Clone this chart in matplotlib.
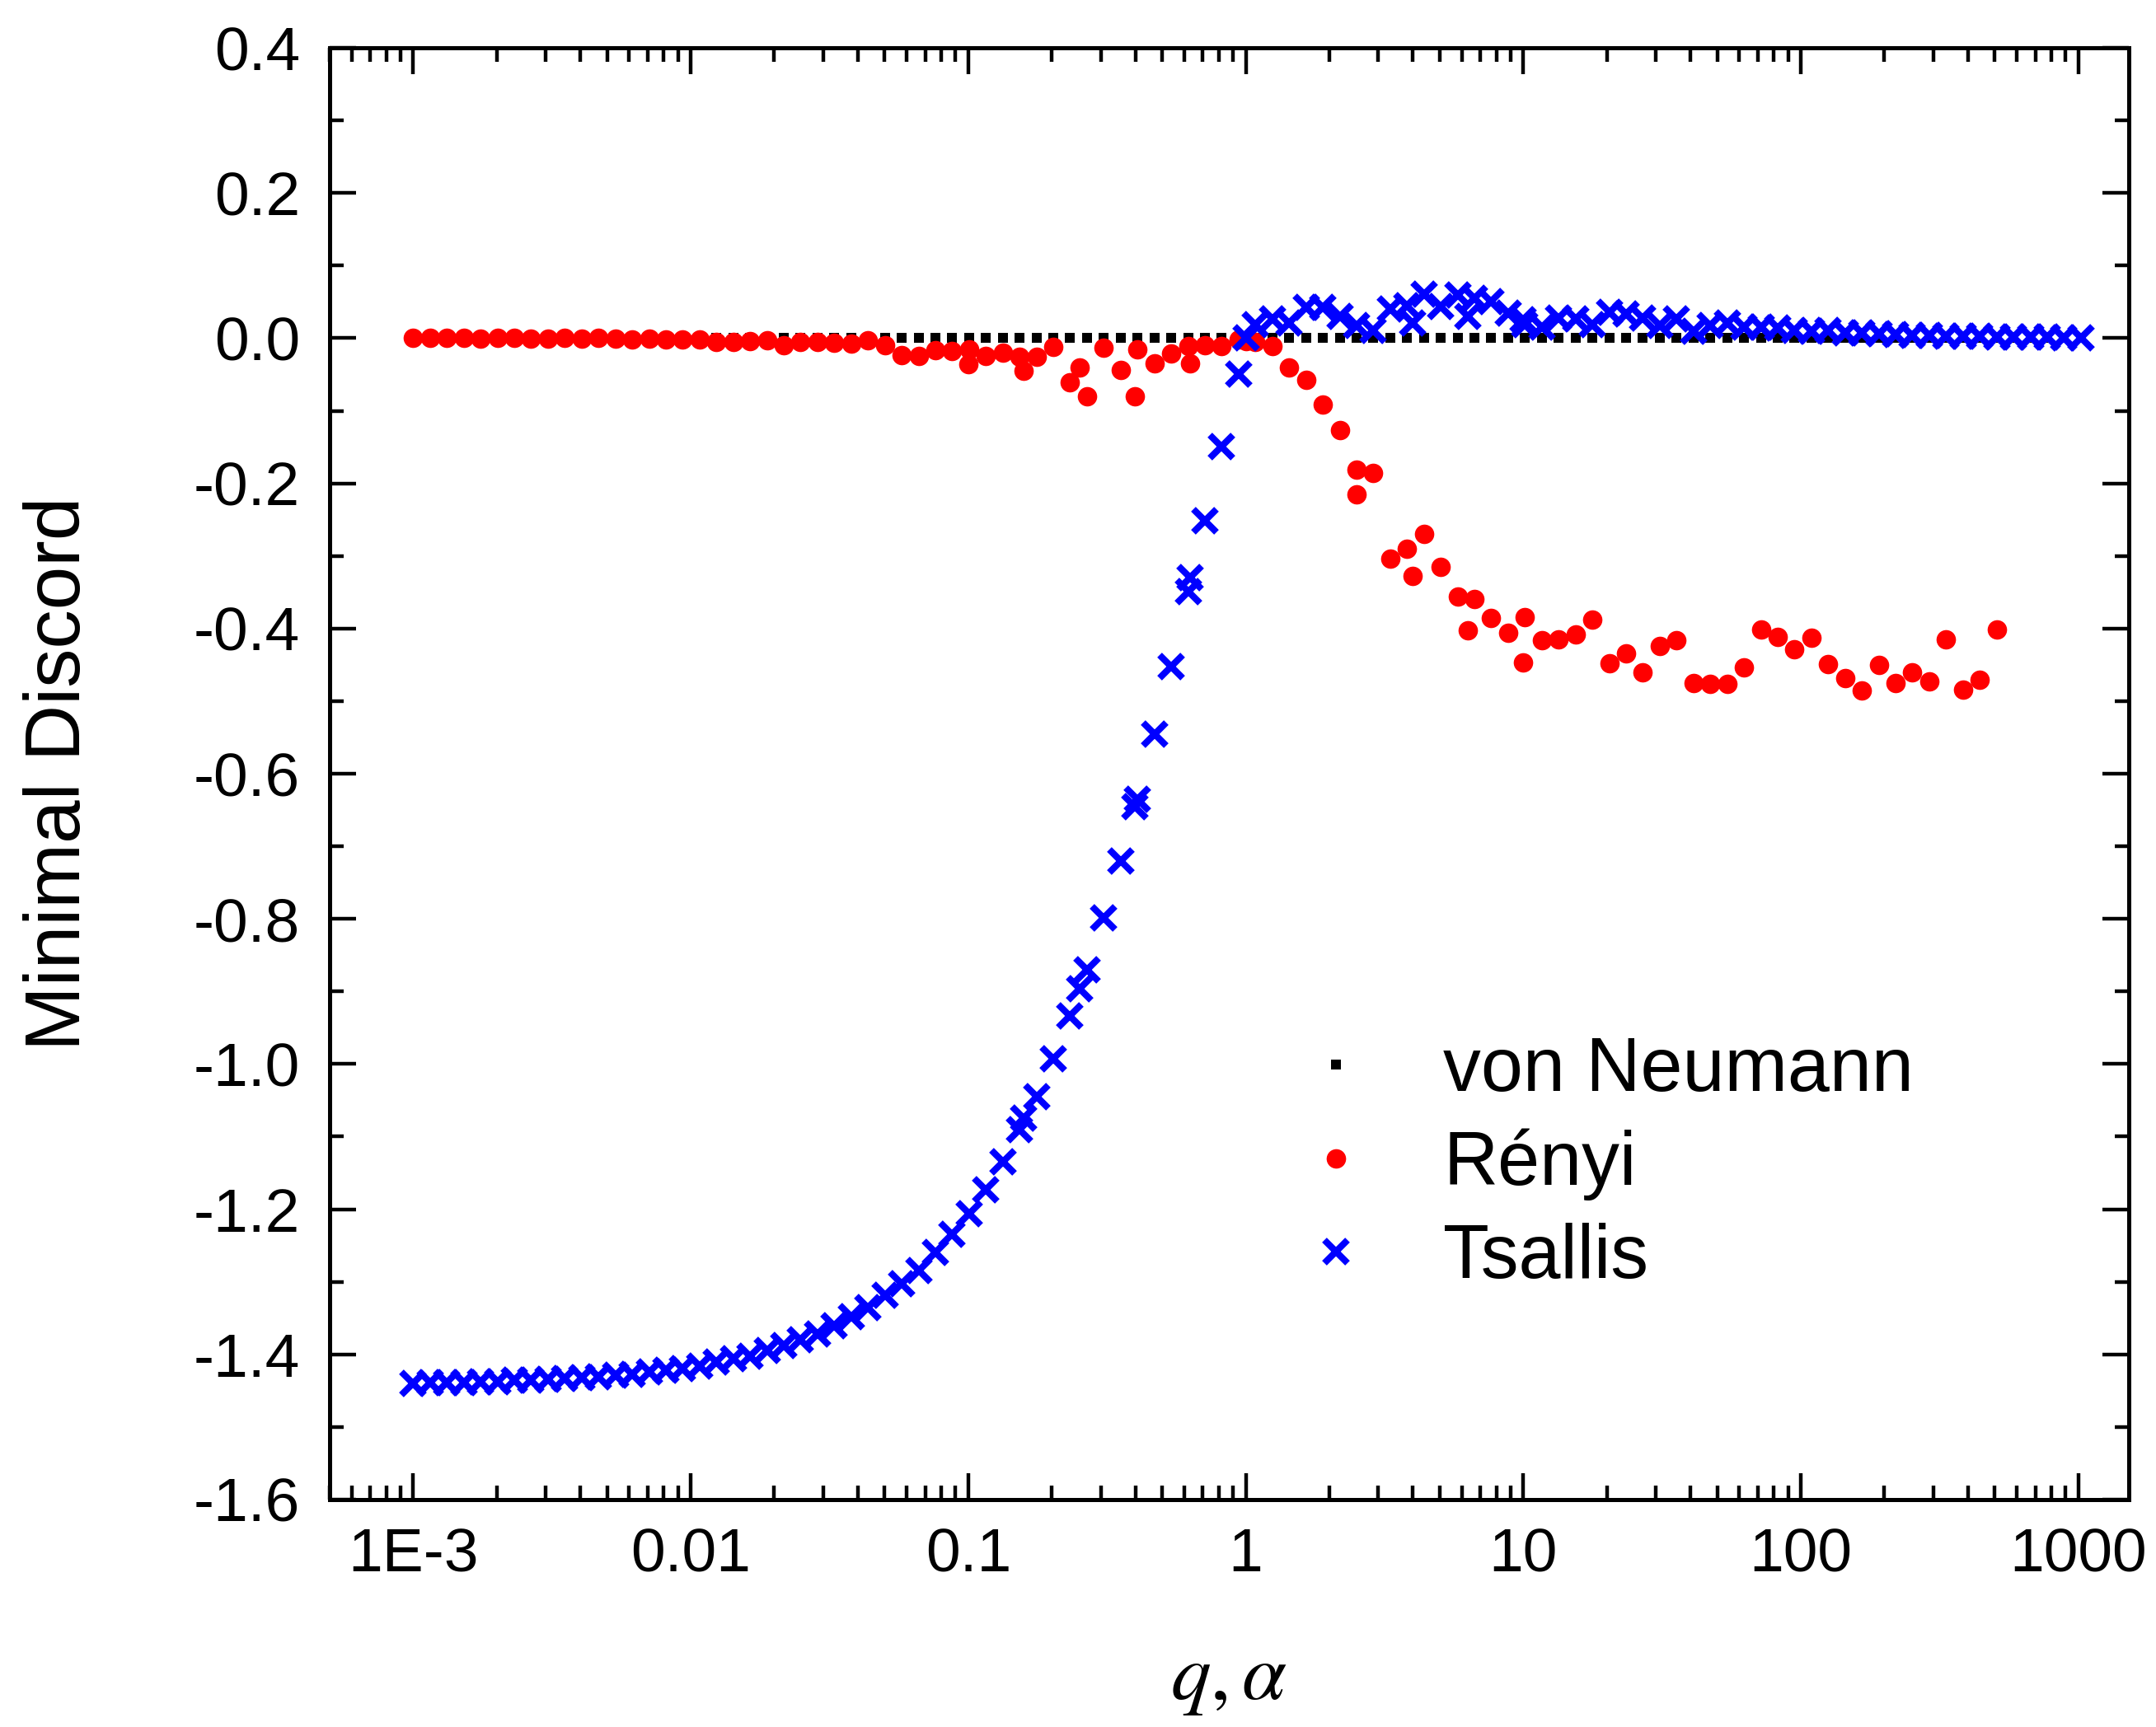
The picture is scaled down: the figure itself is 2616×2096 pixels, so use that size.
import numpy as np
import matplotlib
matplotlib.use("Agg")
import matplotlib.pyplot as plt
from matplotlib.ticker import FixedLocator, FixedFormatter, LogLocator, MultipleLocator, FormatStrFormatter, NullFormatter

plt.rcParams['font.family'] = ['Liberation Sans', 'DejaVu Sans']
plt.rcParams['axes.unicode_minus'] = False
plt.rcParams['mathtext.fontset'] = 'stix'

# common q / alpha grid
x_grid = [0.001, 0.00115, 0.001323, 0.001521, 0.001749, 0.002011, 0.002313, 0.00266, 0.003059, 0.003518,
          0.004046, 0.004652, 0.00535, 0.006153, 0.007076, 0.008137, 0.009358, 0.01076, 0.01238, 0.01423,
          0.01637, 0.01882, 0.02164, 0.02489, 0.02863, 0.03292, 0.03786, 0.04354, 0.05007, 0.05758,
          0.06621, 0.07614, 0.08757, 0.1007, 0.1158, 0.1332, 0.1532, 0.1761, 0.2025, 0.2329,
          0.2679, 0.308, 0.3543, 0.4074, 0.4685, 0.5388, 0.6196, 0.7125, 0.8194, 0.9423,
          1.084, 1.246, 1.433, 1.648, 1.895, 2.18, 2.507, 2.883, 3.315, 3.812,
          4.384, 5.042, 5.798, 6.667, 7.667, 8.818, 10.14, 11.66, 13.41, 15.42,
          17.74, 20.4, 23.45, 26.97, 31.02, 35.67, 41.02, 47.18, 54.25, 62.39,
          71.75, 82.51, 94.88, 109.1, 125.5, 144.3, 166.0, 190.8, 219.5, 252.4,
          290.3, 333.8, 383.9, 441.4, 507.7, 583.8, 671.4, 772.1, 887.9, 1021.0]

vn_y = [0.0] * 100

renyi_y = [0.000, 0.000, 0.000, 0.000, -0.001, 0.000, 0.000, -0.001, -0.001, 0.000,
           -0.001, 0.000, -0.001, -0.002, -0.001, -0.002, -0.002, -0.002, -0.005, -0.005,
           -0.004, -0.003, -0.010, -0.005, -0.005, -0.006, -0.008, -0.003, -0.010, -0.023,
           -0.024, -0.016, -0.018, -0.015, -0.025, -0.020, -0.026, -0.026, -0.012, -0.061,
           -0.080, -0.013, -0.044, -0.015, -0.035, -0.021, -0.011, -0.010, -0.011, -0.002,
           -0.005, -0.011, -0.040, -0.057, -0.091, -0.127, -0.181, -0.186, -0.304, -0.290,
           -0.270, -0.315, -0.356, -0.359, -0.386, -0.406, -0.384, -0.416, -0.415, -0.408,
           -0.388, -0.448, -0.434, -0.460, -0.424, -0.416, -0.475, -0.476, -0.476, -0.454,
           -0.401, -0.412, -0.429, -0.413, -0.449, -0.468, -0.485, -0.450, -0.475, -0.460,
           -0.473, -0.415, -0.484, -0.471, -0.401]
renyi_extra_x = [0.1, 0.1585, 0.2512, 0.3981, 0.631, 1.0, 2.512, 3.981, 6.31, 10.0]
renyi_extra_y = [-0.036, -0.045, -0.040, -0.080, -0.035, -0.004, -0.215, -0.327, -0.403, -0.447]

tsallis_y = [-1.440, -1.439, -1.439, -1.439, -1.438, -1.4375, -1.436, -1.436, -1.4345, -1.433,
             -1.432, -1.431, -1.429, -1.427, -1.424, -1.422, -1.419, -1.416, -1.411, -1.406,
             -1.402, -1.395, -1.388, -1.380, -1.372, -1.361, -1.348, -1.335, -1.319, -1.303,
             -1.284, -1.260, -1.234, -1.206, -1.173, -1.135, -1.090, -1.045, -0.993, -0.934,
             -0.870, -0.799, -0.720, -0.635, -0.546, -0.452, -0.349, -0.252, -0.149, -0.049,
             0.019, 0.027, 0.021, 0.043, 0.043, 0.030, 0.018, 0.011, 0.040, 0.045,
             0.061, 0.044, 0.059, 0.055, 0.051, 0.034, 0.019, 0.015, 0.028, 0.027,
             0.019, 0.036, 0.033, 0.028, 0.017, 0.027, 0.010, 0.017, 0.021, 0.015,
             0.015, 0.014, 0.011, 0.0095, 0.011, 0.0076, 0.007, 0.0057, 0.0045, 0.0038,
             0.0034, 0.003, 0.0027, 0.0023, 0.0019, 0.0015, 0.0011, 0.0011, 0.0008, 0.0008]
tsallis_extra_x = [0.1585, 0.2512, 0.3981, 0.631, 1.0, 3.981, 6.31, 10.0]
tsallis_extra_y = [-1.075, -0.896, -0.645, -0.330, 0.0, 0.021, 0.030, 0.025]

xtick_vals = [1e-3, 1e-2, 1e-1, 1, 10, 100, 1000]
xtick_labels = ["1E-3", "0.01", "0.1", "1", "10", "100", "1000"]

renyi_x_all = x_grid[:len(renyi_y)] + renyi_extra_x
renyi_y_all = renyi_y + renyi_extra_y
tsallis_x_all = x_grid + tsallis_extra_x
tsallis_y_all = tsallis_y + tsallis_extra_y

fig = plt.figure(figsize=(13.08, 10.48), dpi=200)
ax = fig.add_axes([0.1529, 0.1317, 0.8345, 0.8406])

ax.plot(x_grid, vn_y, linestyle='none', marker='s', markersize=4.0,
        color='black', markeredgewidth=0, label='von Neumann', zorder=2)
ax.plot(renyi_x_all, renyi_y_all, linestyle='none', marker='o', markersize=8.5,
        color='#ff0000', markeredgewidth=0, label='Rényi', zorder=3)
ax.plot(tsallis_x_all, tsallis_y_all, linestyle='none', marker='x', markersize=9.8,
        color='#0000ff', markeredgewidth=2.9, label='Tsallis', zorder=4)

ax.set_xscale('log')
ax.set_xlim(5e-4, 1.52e3)
ax.set_ylim(-1.6, 0.4)

ax.xaxis.set_major_locator(FixedLocator(xtick_vals))
ax.xaxis.set_major_formatter(FixedFormatter(xtick_labels))
ax.xaxis.set_minor_locator(LogLocator(base=10, subs=np.arange(2, 10), numticks=20))
ax.xaxis.set_minor_formatter(NullFormatter())
ax.yaxis.set_major_locator(MultipleLocator(0.2))
ax.yaxis.set_minor_locator(MultipleLocator(0.1))
ax.yaxis.set_major_formatter(FormatStrFormatter('%.1f'))

for s in ax.spines.values():
    s.set_linewidth(1.8)

ax.tick_params(which='both', direction='in', top=True, right=True, width=1.6)
ax.tick_params(which='major', length=11.5, labelsize=27)
ax.tick_params(which='minor', length=6)
ax.tick_params(axis='x', which='major', pad=12)
ax.tick_params(axis='y', which='major', pad=13)

ax.set_ylabel('Minimal Discord', fontsize=34)
ax.yaxis.set_label_coords(-0.1296, 0.5)
ax.set_xlabel(r'$q,\alpha$', fontsize=35)
ax.xaxis.set_label_coords(0.5, -0.099)

leg = ax.legend(loc='upper left', bbox_to_anchor=(0.5383, 0.3195), frameon=False,
                fontsize=33, handlelength=1.0, handletextpad=0.92, labelspacing=0.29,
                borderpad=0, borderaxespad=0, numpoints=1)

fig.savefig('out.png', dpi=200)
